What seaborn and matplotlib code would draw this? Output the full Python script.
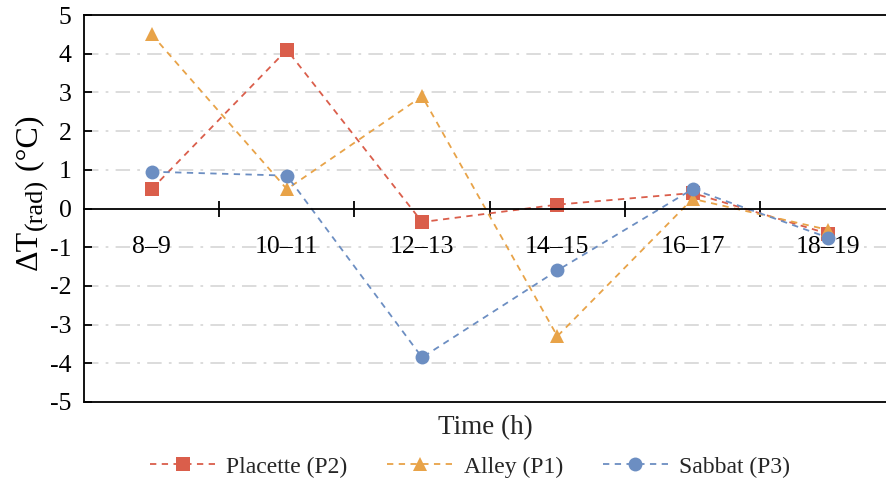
import matplotlib
matplotlib.use("Agg")
import matplotlib.pyplot as plt
import seaborn as sns
import pandas as pd
import numpy as np
from matplotlib.ticker import FixedLocator

categories = ["8–9", "10–11", "12–13", "14–15", "16–17", "18–19"]
placette = [0.5, 4.1, -0.35, 0.1, 0.4, -0.65]
alley = [4.5, 0.5, 2.9, -3.3, 0.25, -0.55]
sabbat = [0.95, 0.85, -3.85, -1.6, 0.5, -0.75]
series_names = ["Placette (P2)", "Alley (P1)", "Sabbat (P3)"]
colors = ["#DA5E4B", "#E8A348", "#6C8EC2"]
yticks = [-5, -4, -3, -2, -1, 0, 1, 2, 3, 4, 5]
ylabel_parts = ["ΔT", "(rad)", " (°C)"]

df = pd.DataFrame({
    "Time": categories * 3,
    "value": placette + alley + sabbat,
    "series": [s for s in series_names for _ in categories],
})

sns.set_theme(style="white")
plt.rcParams["font.family"] = ["Liberation Serif", "DejaVu Serif"]

W, H = 886, 484
fig = plt.figure(figsize=(W / 100, H / 100), dpi=100)
ax = fig.add_axes([84 / W, 1 - 402 / H, 1 - 84 / W, (402 - 15) / H])

sns.lineplot(
    data=df, x="Time", y="value", hue="series", style="series",
    hue_order=series_names, style_order=series_names,
    palette=dict(zip(series_names, colors)),
    markers=dict(zip(series_names, ["s", "^", "o"])),
    dashes=dict(zip(series_names, [(3.5, 3)] * 3)),
    markersize=10, markeredgewidth=0, linewidth=1.3, sort=False, ax=ax, legend=True,
)

ax.set_ylim(-5, 5)
ax.set_xlim(-0.5, 5.43)
ax.set_yticks(yticks)
ax.set_yticklabels([str(v) for v in yticks], fontsize=18.5)
for v in yticks:
    if v not in (-5, 0, 5):
        ax.axhline(v, color="#D9D9D9", lw=1.3, ls=(0, (8, 4, 1.5, 4)), zorder=0)

for s in ["left", "top", "bottom"]:
    ax.spines[s].set_color("black")
    ax.spines[s].set_linewidth(1.3)
ax.spines["right"].set_visible(False)
ax.spines["bottom"].set_position(("data", 0))
# bottom frame of the plot area
ax.plot([0, 1], [0, 0], transform=ax.transAxes, color="black", lw=1.3, clip_on=False, zorder=5)

ax.tick_params(axis="y", which="both", left=True, length=6, width=1.3, direction="in", pad=9, colors="black")
ax.set_xticks(range(len(categories)))
ax.set_xticklabels(categories, fontsize=18.5)
ax.xaxis.set_minor_locator(FixedLocator(np.arange(0.5, len(categories) - 1, 1)))
ax.tick_params(axis="x", which="major", bottom=True, length=0, pad=20, colors="black")
ax.tick_params(axis="x", which="minor", bottom=True, length=12, width=1.3, direction="inout", color="black")

ax.set_xlabel("Time (h)", fontsize=19.5)
ax.xaxis.set_label_coords((485 - 84) / (886 - 84), -0.035)
ax.set_ylabel("")

# y label built from parts: main text, lowered subscript, unit
fig.canvas.draw()
renderer = fig.canvas.get_renderer()
sizes = [23, 19, 23]
shifts = [0, 5, 0]          # subscript lowered (to the right when rotated)
baseline_x = 37
texts = []
for part, fs, sh in zip(ylabel_parts, sizes, shifts):
    t = fig.text((baseline_x + sh) / W, 0.5, part, rotation=90, rotation_mode="anchor",
                 ha="left", va="baseline", fontsize=fs, color="black")
    texts.append(t)
lengths = [t.get_window_extent(renderer).height for t in texts]
total = sum(lengths)
y_start = 193 + total / 2   # pixel from top where the label starts (bottom end)
pos = y_start
for t, L, sh in zip(texts, lengths, shifts):
    t.set_position(((baseline_x + sh) / W, 1 - pos / H))
    pos -= L

ax.get_legend().remove()
handles, labels = ax.get_legend_handles_labels()
fig.legend(handles, labels, loc="center", bbox_to_anchor=(470 / W, 1 - 467 / H),
           ncol=3, frameon=False, fontsize=17, handlelength=2.75, handletextpad=0.47,
           columnspacing=1.7)

fig.savefig("out.png", dpi=100)
